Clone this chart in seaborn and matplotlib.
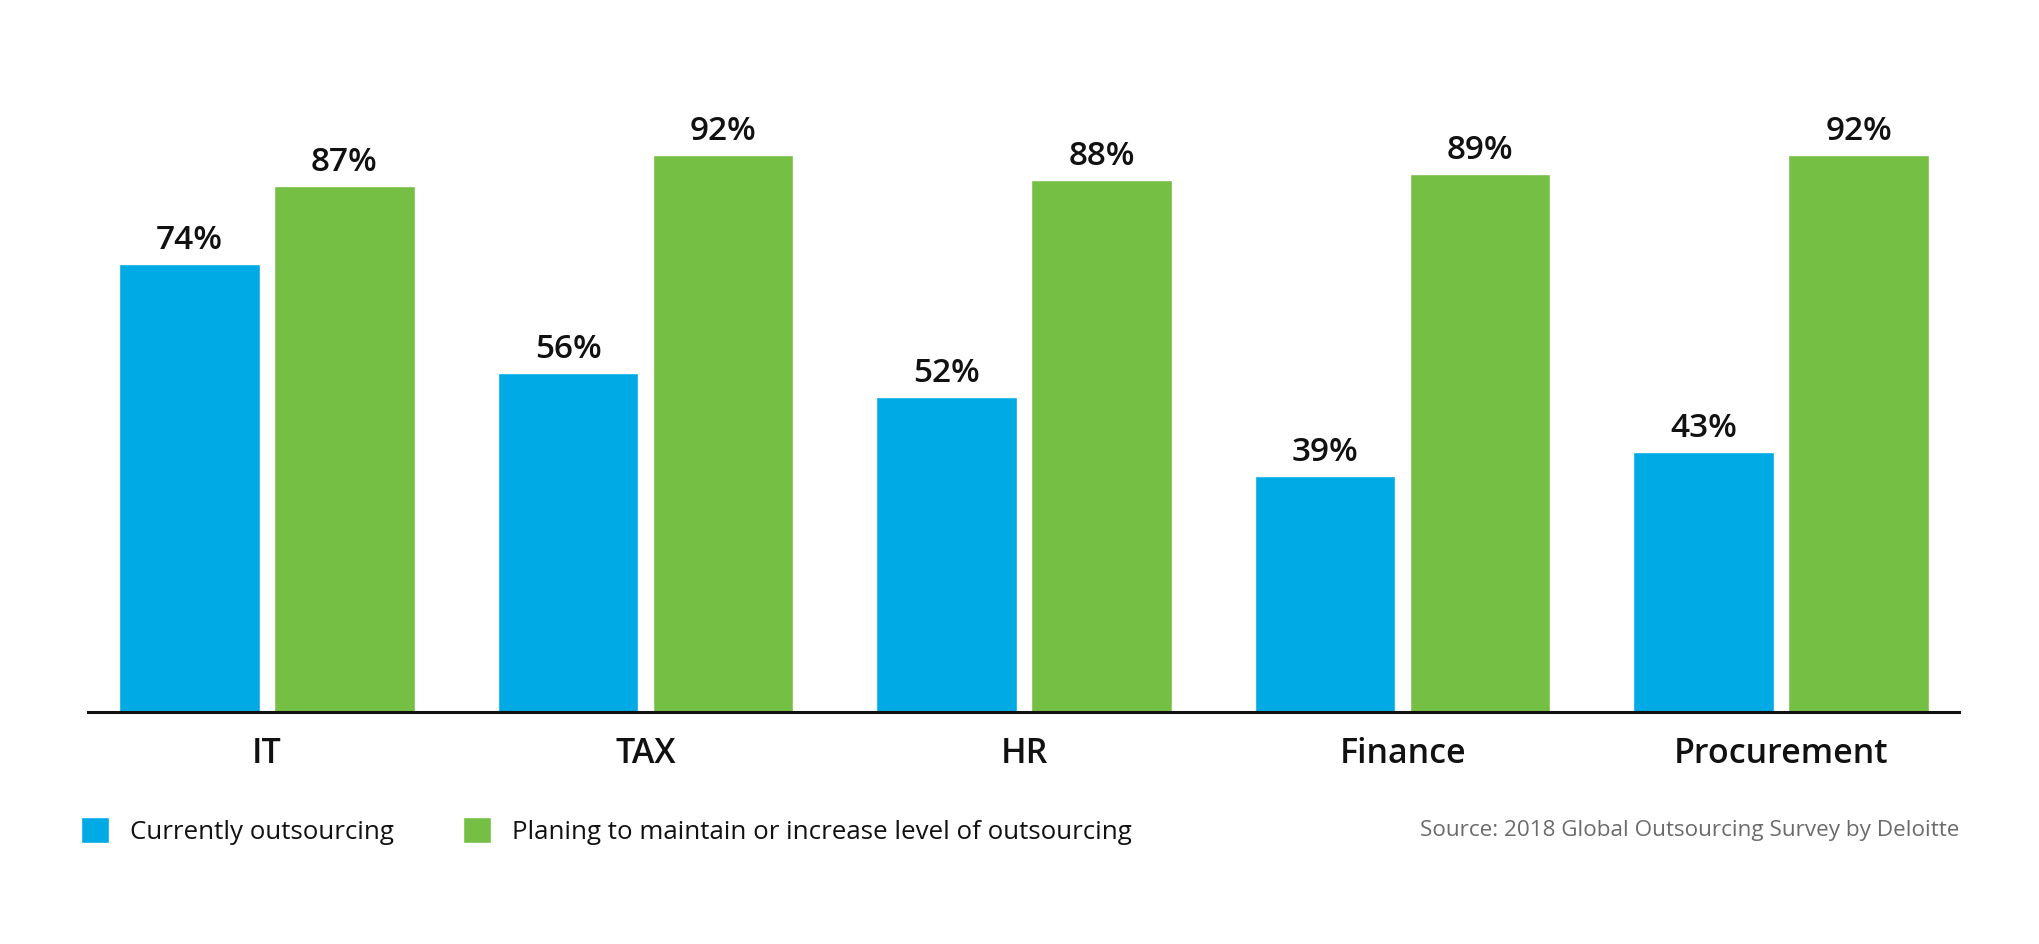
import matplotlib
matplotlib.use("Agg")
import matplotlib.pyplot as plt
import seaborn as sns
import pandas as pd

# chart data
categories = ["IT", "TAX", "HR", "Finance", "Procurement"]
series_names = ["Currently outsourcing",
                "Planing to maintain or increase level of outsourcing"]
current = [74, 56, 52, 39, 43]
planning = [87, 92, 88, 89, 92]
colors = ["#00AAE4", "#75BF44"]
source_text = "Source: 2018 Global Outsourcing Survey by Deloitte"

df = pd.DataFrame({
    "category": categories * 2,
    "series": [series_names[0]] * len(categories) + [series_names[1]] * len(categories),
    "value": current + planning,
})

sns.set_theme(style="white")
plt.rcParams["font.family"] = ["Open Sans", "DejaVu Sans"]

fig = plt.figure(figsize=(20.4, 9.44), dpi=100)
ax = fig.add_axes([0.0431, 0.2458, 0.9172, 0.6409])

sns.barplot(data=df, x="category", y="value", hue="series",
            palette=colors, width=0.818, gap=0.093, ax=ax,
            saturation=1, legend=True)

ax.set_ylim(0, 100)
ax.set_xlim(-0.473, 4.47)

# value labels on top of bars
for cont in ax.containers:
    ax.bar_label(cont, fmt="%d%%", padding=5, fontsize=24,
                 fontweight="semibold", color="#111111")

ax.set_xlabel("")
ax.set_ylabel("")
ax.set_yticks([])
ax.tick_params(axis="x", length=0, pad=18, labelsize=24.5, labelcolor="#111111")
for lbl in ax.get_xticklabels():
    lbl.set_fontweight("semibold")

for side in ["top", "right", "left"]:
    ax.spines[side].set_visible(False)
ax.spines["bottom"].set_color("#111111")
ax.spines["bottom"].set_linewidth(2.2)

# legend at bottom left
handles, labels = ax.get_legend_handles_labels()
ax.get_legend().remove()
fig.legend(handles, labels, loc="center left", bbox_to_anchor=(0.0397, 0.12),
           ncol=2, frameon=False, fontsize=18.6, borderpad=0, borderaxespad=0,
           handlelength=1.08, handleheight=1.18, handletextpad=0.8,
           columnspacing=2.7, labelcolor="#111111")

fig.text(0.9603, 0.12, source_text, ha="right", va="center",
         fontsize=16.2, color="#6b6b6b")

fig.savefig("out.png", dpi=100, facecolor="white")
